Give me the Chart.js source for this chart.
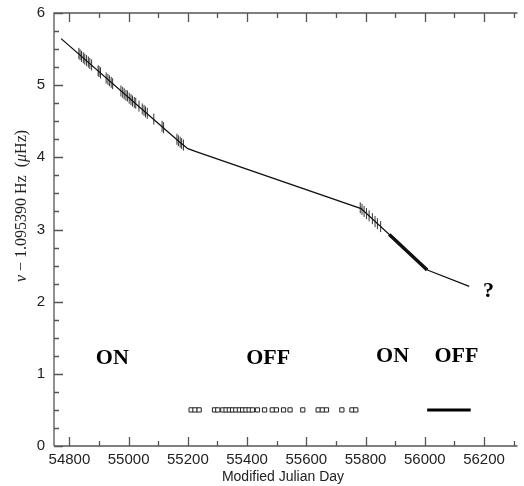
<!DOCTYPE html>
<html lang="en">
<head>
<meta charset="utf-8">
<title>Spin frequency vs MJD</title>
<script src="https://cdn.jsdelivr.net/npm/chart.js@4.4.1/dist/chart.umd.min.js"></script>
<style>
  html, body { margin: 0; padding: 0; background: #fff; }
  #wrap { width: 524px; height: 486px; }
</style>
</head>
<body>
<div id="wrap"><canvas id="myChart" aria-label="chart" role="img"></canvas></div>
<script>
// timing model (nu - 1.095390 Hz, in uHz) vs MJD
const modelMjd = [54772, 55170, 55200, 55230, 55785, 56011, 56150];
const modelNu  = [5.645, 4.22, 4.12, 4.075, 3.29, 2.435, 2.213];

// measurements, first ON window
const on1Mjd = [54832, 54836, 54841, 54847, 54852, 54858, 54864, 54869, 54875, 54897,
                54900, 54905, 54924, 54930, 54935, 54941, 54946, 54974, 54980, 54985,
                54991, 54996, 55002, 55008, 55013, 55019, 55024, 55035, 55046, 55052,
                55057, 55063, 55085, 55113, 55118, 55163, 55168, 55174, 55179, 55185];
const on1Nu  = [5.44, 5.42, 5.40, 5.38, 5.36, 5.34, 5.32, 5.30, 5.28, 5.20,
                5.19, 5.17, 5.10, 5.08, 5.06, 5.04, 5.02, 4.92, 4.90, 4.88,
                4.86, 4.85, 4.82, 4.80, 4.78, 4.76, 4.75, 4.71, 4.67, 4.65,
                4.63, 4.61, 4.53, 4.43, 4.41, 4.25, 4.23, 4.21, 4.19, 4.17];

// measurements, second ON window
const on2Mjd = [55782, 55788, 55795, 55803, 55812, 55823, 55832, 55840, 55851];
const on2Nu  = [3.30, 3.28, 3.25, 3.22, 3.19, 3.15, 3.11, 3.08, 3.04];

// dense stretch at the end of the second ON window
const denseMjd = [55880, 56008];
const denseNu  = [2.93, 2.44];

// observation epochs during OFF
const offMjd = [55211, 55224, 55238, 55290, 55301, 55318, 55329, 55340, 55351, 55362,
                55374, 55385, 55396, 55407, 55418, 55435, 55459, 55485, 55499, 55523,
                55545, 55588, 55640, 55654, 55668, 55720, 55754, 55767];
const offLevel = 0.5;
const lateMjd = [56008, 56155];

// text labels
const noteText = ['ON', 'OFF', 'ON', 'OFF', '?'];
const noteMjd  = [54945, 55471, 55891, 56107, 56215];
const noteNu   = [1.21, 1.21, 1.24, 1.24, 2.15];

const xTicks = [54800, 55000, 55200, 55400, 55600, 55800, 56000, 56200];
const yTicks = [0, 1, 2, 3, 4, 5, 6];

function pts(xs, ys) { return xs.map((v, i) => ({ x: v, y: ys[i] })); }

const frame = {
    id: 'frame',
    afterDraw(chart) {
        const { ctx, chartArea: a, scales: { x, y } } = chart;
        ctx.save();
        ctx.strokeStyle = '#555';
        ctx.lineWidth = 1.3;
        ctx.beginPath();
        ctx.moveTo(a.left, a.bottom); ctx.lineTo(a.left, a.top); ctx.lineTo(a.right, a.top);
        ctx.moveTo(a.left, a.bottom); ctx.lineTo(a.right, a.bottom);
        for (let v = 54800; v <= 56300; v += 100) {
            const px = Math.round(x.getPixelForValue(v)) + 0.5;
            const len = v % 200 === 0 ? 9 : 5;
            ctx.moveTo(px, a.bottom); ctx.lineTo(px, a.bottom - len);
            ctx.moveTo(px, a.top); ctx.lineTo(px, a.top + len);
        }
        for (let v = 0; v <= 6; v += 0.25) {
            const py = Math.round(y.getPixelForValue(v)) + 0.5;
            const len = v % 1 === 0 ? 9 : 5;
            ctx.moveTo(a.left, py); ctx.lineTo(a.left + len, py);
        }
        ctx.stroke();

        // ON / OFF labels
        ctx.fillStyle = '#000';
        ctx.font = 'bold 22px "Liberation Serif"';
        ctx.textAlign = 'center';
        ctx.textBaseline = 'middle';
        noteText.forEach((t, i) => {
            ctx.fillText(t, x.getPixelForValue(noteMjd[i]), y.getPixelForValue(noteNu[i]));
        });

        // x title
        ctx.fillStyle = '#222';
        ctx.font = '14px "Liberation Sans"';
        ctx.fillText('Modified Julian Day', 283, 477);

        // y title, rotated
        const parts = [['italic 16px "Liberation Serif"', 'ν'],
                       ['16px "Liberation Serif"', ' − 1.095390 Hz  ('],
                       ['italic 16px "Liberation Serif"', 'μ'],
                       ['16px "Liberation Serif"', 'Hz)']];
        let total = 0;
        parts.forEach(p => { ctx.font = p[0]; total += ctx.measureText(p[1]).width; });
        ctx.translate(22, 206);
        ctx.rotate(-Math.PI / 2);
        ctx.textAlign = 'left';
        let cx = -total / 2;
        parts.forEach(p => {
            ctx.font = p[0];
            ctx.fillText(p[1], cx, 0);
            cx += ctx.measureText(p[1]).width;
        });
        ctx.restore();
    }
};

const ctx = document.getElementById('myChart').getContext('2d');
const chart = new Chart(ctx, {
    type: 'scatter',
    data: {
        datasets: [
            {
                label: 'model',
                type: 'line',
                data: pts(modelMjd, modelNu),
                borderColor: '#111',
                borderWidth: 1.3,
                pointRadius: 0,
                tension: 0
            },
            {
                label: 'dense',
                type: 'line',
                data: pts(denseMjd, denseNu),
                borderColor: '#111',
                borderWidth: 3.5,
                pointRadius: 0
            },
            {
                label: 'ON 1',
                data: pts(on1Mjd, on1Nu),
                pointStyle: 'line',
                rotation: 90,
                radius: 5.5,
                borderColor: '#333',
                borderWidth: 1
            },
            {
                label: 'ON 2',
                data: pts(on2Mjd, on2Nu),
                pointStyle: 'line',
                rotation: 90,
                radius: 5.5,
                borderColor: '#333',
                borderWidth: 1
            },
            {
                label: 'OFF epochs',
                data: offMjd.map(v => ({ x: v, y: offLevel })),
                pointStyle: 'rect',
                radius: 3,
                backgroundColor: '#fff',
                borderColor: '#222',
                borderWidth: 1
            },
            {
                label: 'late',
                type: 'line',
                data: lateMjd.map(v => ({ x: v, y: offLevel })),
                borderColor: '#000',
                borderWidth: 3,
                pointRadius: 0
            }
        ]
    },
    options: {
        responsive: true,
        maintainAspectRatio: false,
        animation: false,
        layout: { padding: { top: 13, left: 0, right: 0, bottom: 0 } },
        plugins: { legend: { display: false }, tooltip: { enabled: false } },
        scales: {
            x: {
                type: 'linear',
                min: 54748,
                max: 56313,
                grid: { display: false, drawTicks: false },
                border: { display: false },
                afterBuildTicks: s => { s.ticks = xTicks.map(v => ({ value: v })); },
                afterFit: s => { s.height = 40; s.paddingLeft = 0; s.paddingRight = 0; },
                ticks: {
                    padding: 5,
                    color: '#222',
                    font: { family: 'Liberation Sans', size: 15 },
                    maxRotation: 0,
                    autoSkip: false,
                    callback: v => String(v)
                }
            },
            y: {
                min: 0,
                max: 6,
                grid: { display: false, drawTicks: false },
                border: { display: false },
                afterBuildTicks: s => { s.ticks = yTicks.map(v => ({ value: v })); },
                afterFit: s => { s.width = 54; s.paddingTop = 0; s.paddingBottom = 0; },
                ticks: {
                    padding: 9,
                    color: '#222',
                    font: { family: 'Liberation Sans', size: 15 }
                }
            }
        }
    },
    plugins: [frame]
});
</script>
</body>
</html>
